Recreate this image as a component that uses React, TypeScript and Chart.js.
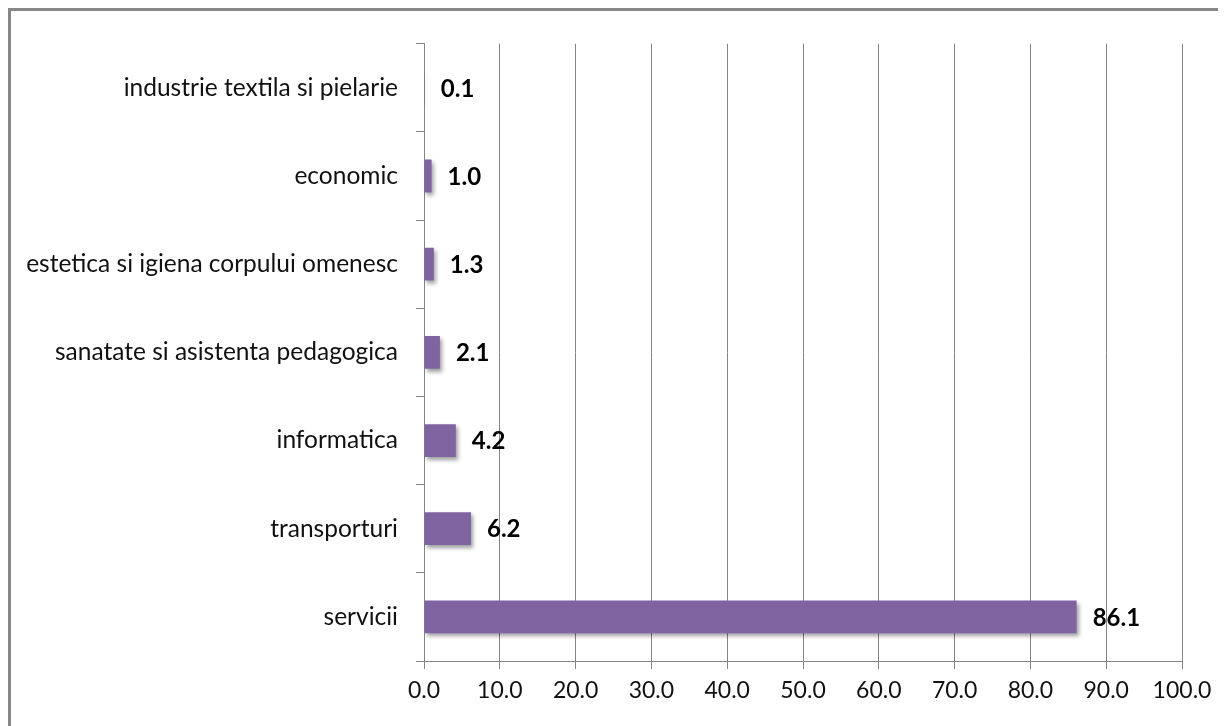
import React, { useEffect, useRef } from "react";
import { Chart, registerables } from "chart.js";

Chart.register(...registerables);

const categories: string[] = [
  "industrie textila si pielarie",
  "economic",
  "estetica si igiena corpului omenesc",
  "sanatate si asistenta pedagogica",
  "informatica",
  "transporturi",
  "servicii",
];
const values: number[] = [0.1, 1.0, 1.3, 2.1, 4.2, 6.2, 86.1];
const xMin = 0;
const xMax = 100;
const xStep = 10;

const GRID = "#858585";
const BAR = "#8064A2";
const FONT = "Lato, 'Open Sans', sans-serif";

const shadowPlugin = {
  id: "barShadow",
  beforeDatasetDraw(chart: any) {
    const ctx = chart.ctx;
    ctx.save();
    ctx.shadowColor = "rgba(0,0,0,0.38)";
    ctx.shadowBlur = 4;
    ctx.shadowOffsetX = 2;
    ctx.shadowOffsetY = 3;
  },
  afterDatasetDraw(chart: any) {
    chart.ctx.restore();
  },
};

const labelPlugin = {
  id: "valueLabels",
  afterDatasetsDraw(chart: any) {
    const ctx = chart.ctx;
    const meta = chart.getDatasetMeta(0);
    ctx.save();
    ctx.font = `bold 24px ${FONT}`;
    ctx.fillStyle = "#000";
    ctx.textAlign = "left";
    ctx.textBaseline = "middle";
    meta.data.forEach((el: any, i: number) => {
      const v = chart.data.datasets[0].data[i] as number;
      ctx.fillText(v.toFixed(1), el.x + 16, el.y + 1);
    });
    ctx.restore();
  },
};

export default function App() {
  const ref = useRef<HTMLCanvasElement | null>(null);

  useEffect(() => {
    if (!ref.current) return;
    const chart = new Chart(ref.current, {
      type: "bar",
      data: {
        labels: categories,
        datasets: [
          {
            data: values,
            backgroundColor: BAR,
            borderWidth: 0,
            categoryPercentage: 1,
            barPercentage: 0.372,
          },
        ],
      },
      options: {
        indexAxis: "y",
        animation: false,
        responsive: false,
        maintainAspectRatio: false,
        layout: { padding: { top: 30, right: 44, left: 0, bottom: 0 } },
        plugins: {
          legend: { display: false },
          tooltip: { enabled: false },
          title: { display: false },
        },
        scales: {
          x: {
            min: xMin,
            max: xMax,
            ticks: {
              stepSize: xStep,
              color: "#111",
              font: { family: FONT, size: 23 },
              padding: 8,
              callback: (v: any) => Number(v).toFixed(1),
            },
            grid: {
              color: GRID,
              lineWidth: 1,
              drawTicks: true,
              tickLength: 8,
            },
            border: { color: GRID, width: 1 },
            afterFit: (s: any) => {
              s.height = 65;
            },
          },
          y: {
            ticks: {
              color: "#111",
              font: { family: FONT, size: 24.5 },
              padding: 18,
              autoSkip: false,
            },
            grid: {
              drawOnChartArea: false,
              drawTicks: true,
              tickLength: 8,
              color: GRID,
              offset: true,
            },
            border: { color: GRID, width: 1 },
            afterFit: (s: any) => {
              s.width = 413;
            },
          },
        },
      },
      plugins: [shadowPlugin, labelPlugin],
    });
    return () => chart.destroy();
  }, []);

  return (
    <div style={{ width: 1218, height: 718, overflow: "hidden", position: "relative", background: "#fff" }}>
      <div
        style={{
          position: "absolute",
          left: 0,
          top: 0,
          width: 1260,
          height: 780,
          border: "3px solid #878787",
          boxSizing: "border-box",
        }}
      />
      <canvas
        ref={ref}
        width={1215}
        height={715}
        style={{ position: "absolute", left: 3, top: 3, width: 1215, height: 715 }}
      />
    </div>
  );
}
